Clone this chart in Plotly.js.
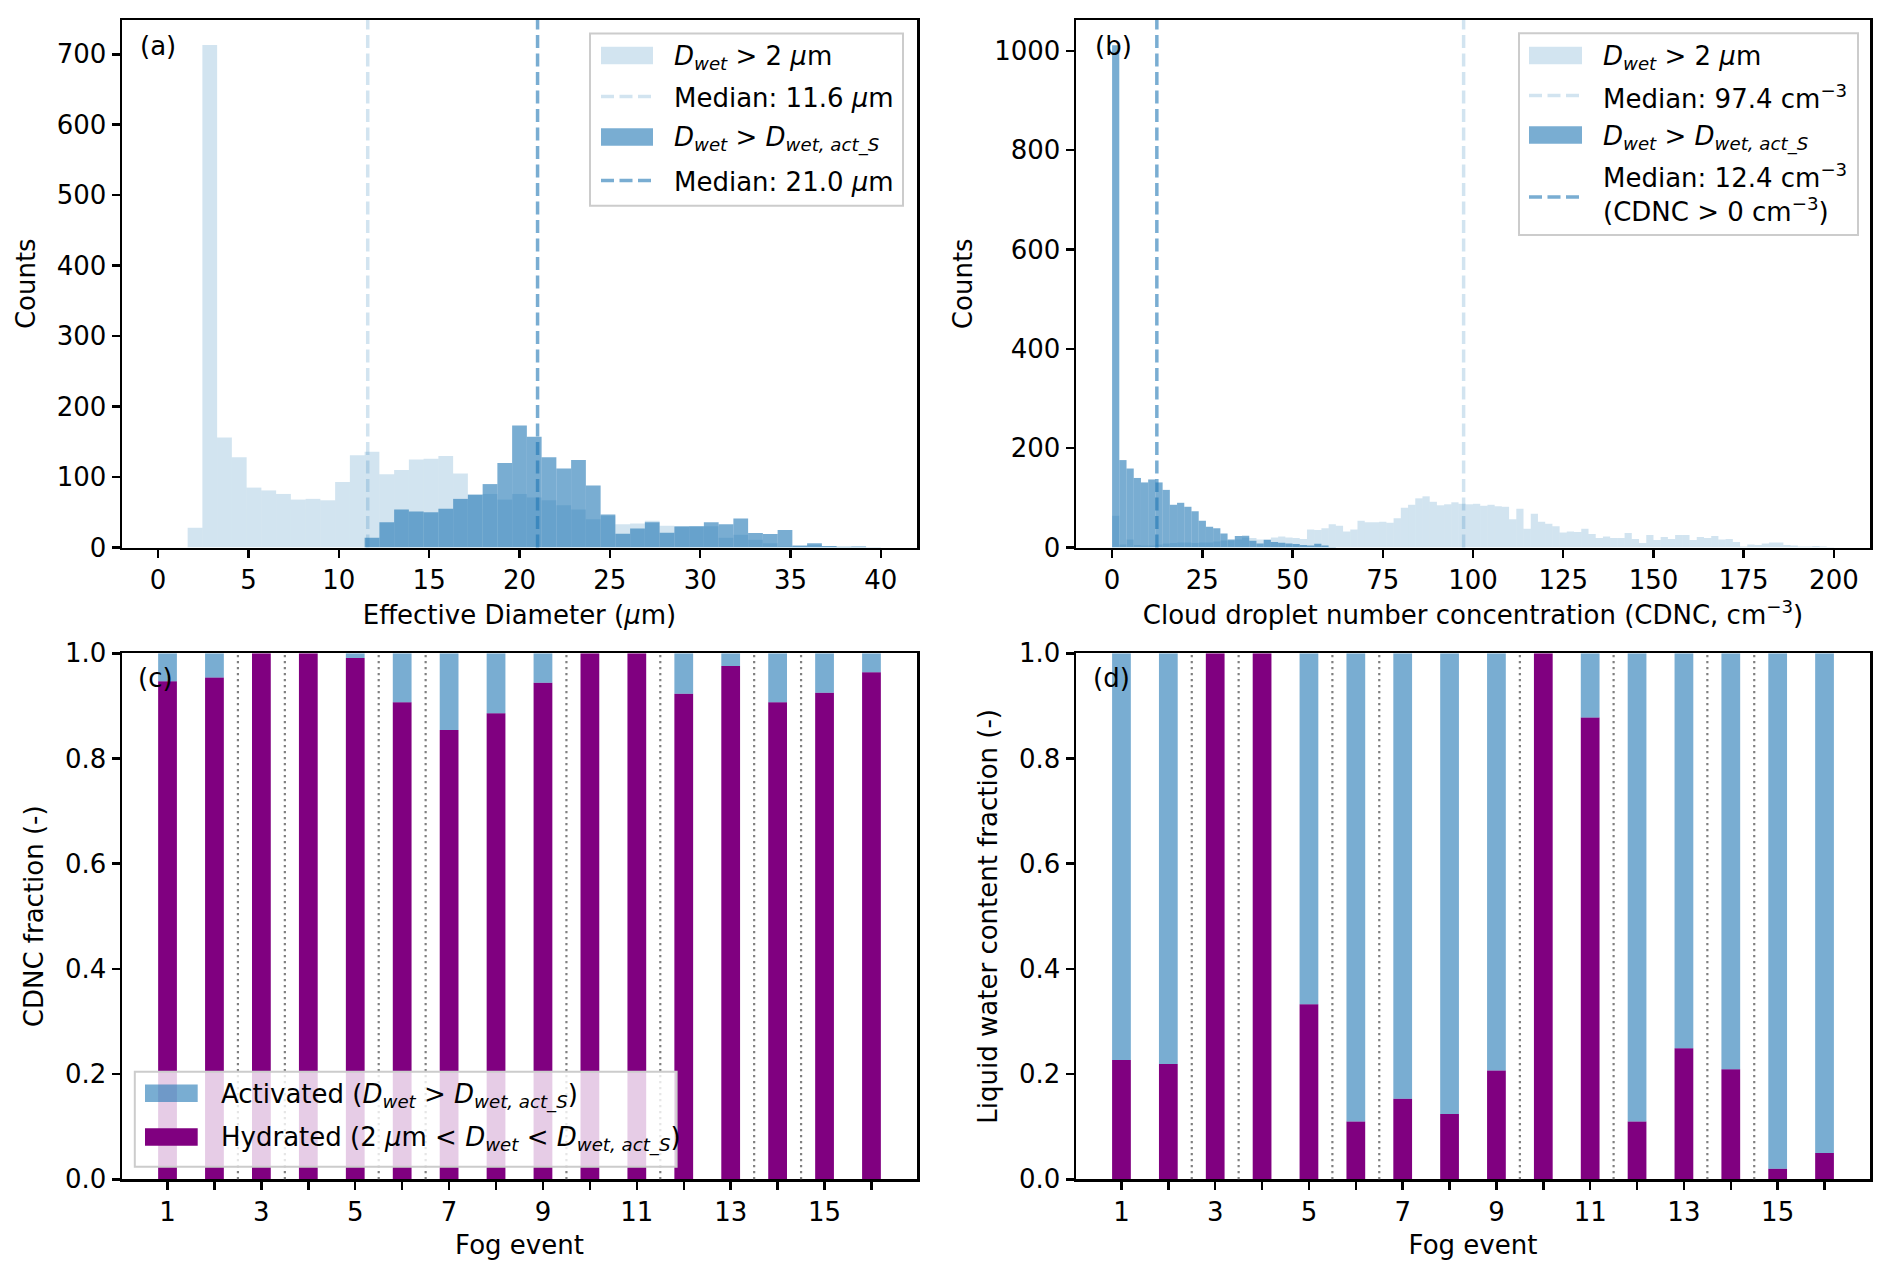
<!DOCTYPE html>
<html>
<head>
<meta charset="utf-8">
<script src="https://cdn.plot.ly/plotly-3.0.1.min.js"></script>
<style>html,body{margin:0;padding:0;background:#fff;}#chart{width:1892px;height:1278px;}</style>
</head>
<body>
<div id="chart"></div>
<script>
// ---------------- DATA ----------------
// (a) Effective diameter histograms: 49 bins spanning 0..40 µm
const diamBinStart = 0;
const diamBinEnd = 40;
const diamCountsAll = [0,0,28,713,156,128,85,81,76,68,69,67,93,131,136,104,110,125,126,130,105,75,76,68,76,71,67,60,54,40,45,33,34,38,31,29,30,30,14,18,11,6,1.5,2,4,1.5,1,1,0.5];
const diamCountsAct = [0,0,0,0,0,0,0,0,0,0,0,0,0,0,14,36,54,51,50,55,69,75,90,120,173,157,128,112,124,88,47,19.5,27,36,21,30,30,36,33,41,20.5,19,25,3,6,2,1,1.4,0.5];
const diamMedians = [11.6, 21.0];

// (b) CDNC histograms: bins of 2 cm^-3 starting at 0
const cdncBinWidth = 2;
const cdncCountsAll = [64,6,16,5,4,4,6,8,9,10,10,9,10,10,12,14,14,16,20,19,16,17,20,22,20,19,17,
  36,35,39,47,44,32,36,54,51,51,52,
  50,59,80,86,99,103,92,85,87,91,88,87,88,84,86,83,82,57,78,38,68,52,48,43,30,32,31,38,27,19,
  22,19,19,29,17,9,25,15,21,17,25,25,15,21,19,23,16,17,11,2,6,5,8,10,10,5,4,2,2,3,2,1];
const cdncCountsAct = [1011,176,159,140,131,137,131,116,86,90,82,73,54,42,39,28,16,23,23.5,13.5,8,15,11,9.5,8,7,5,4,7.5,4,1];
const cdncMedians = [97.4, 12.4];

// (c),(d) fog events
const fogEvents = [1,2,3,4,5,6,7,8,9,10,11,12,13,14,15,16];
const fogTickVals = [1,3,5,7,9,11,13,15];
const cdncHydrated = [0.947,0.954,1.0,1.0,0.991,0.907,0.854,0.886,0.944,1.0,1.0,0.923,0.976,0.907,0.925,0.964];
const cdncActivated = [0.053,0.046,0,0,0.009,0.093,0.146,0.114,0.056,0,0,0.077,0.024,0.093,0.075,0.036];
const lwcHydrated = [0.227,0.219,1.0,1.0,0.333,0.110,0.153,0.124,0.207,1.0,0.878,0.110,0.249,0.209,0.020,0.050];
const lwcActivated = [0.773,0.781,0,0,0.667,0.890,0.847,0.876,0.793,0,0.122,0.890,0.751,0.791,0.980,0.950];
const eventSeparators = [2.5,3.5,5.5,6.5,9.5,11.5,13.5,14.5];

// ---------------- STYLE ----------------
const W = 1892, H = 1278;
const FONT = 'DejaVu Sans';
const FS = 26;
const C_LIGHT = 'rgba(31,119,180,0.2)';
const C_DARK = 'rgba(31,119,180,0.6)';
const C_PURPLE = '#800080';
const DASH = '13px,5.5px';
function PX(x){ return x / W; }
function PY(y){ return 1 - y / H; }

const diamW = (diamBinEnd - diamBinStart) / diamCountsAll.length;
const diamCenters = diamCountsAll.map((_, i) => diamBinStart + diamW * (i + 0.5));
const cdncCentersAll = cdncCountsAll.map((_, i) => cdncBinWidth * (i + 0.5));
const cdncCentersAct = cdncCountsAct.map((_, i) => cdncBinWidth * (i + 0.5));

const traces = [
  {type:'bar', x:diamCenters, y:diamCountsAll, width:diamW, xaxis:'x', yaxis:'y',
   marker:{color:C_LIGHT, line:{width:0}}, showlegend:false, hoverinfo:'skip'},
  {type:'bar', x:diamCenters, y:diamCountsAct, width:diamW, xaxis:'x', yaxis:'y',
   marker:{color:C_DARK, line:{width:0}}, showlegend:false, hoverinfo:'skip'},
  {type:'bar', x:cdncCentersAll, y:cdncCountsAll, width:cdncBinWidth, xaxis:'x2', yaxis:'y2',
   marker:{color:C_LIGHT, line:{width:0}}, showlegend:false, hoverinfo:'skip'},
  {type:'bar', x:cdncCentersAct, y:cdncCountsAct, width:cdncBinWidth, xaxis:'x2', yaxis:'y2',
   marker:{color:C_DARK, line:{width:0}}, showlegend:false, hoverinfo:'skip'},
  {type:'bar', x:fogEvents, y:cdncHydrated, width:0.4, xaxis:'x3', yaxis:'y3',
   marker:{color:C_PURPLE, line:{width:0}}, showlegend:false},
  {type:'bar', x:fogEvents, y:cdncActivated, base:cdncHydrated, width:0.4, xaxis:'x3', yaxis:'y3',
   marker:{color:C_DARK, line:{width:0}}, showlegend:false},
  {type:'bar', x:fogEvents, y:lwcHydrated, width:0.4, xaxis:'x4', yaxis:'y4',
   marker:{color:C_PURPLE, line:{width:0}}, showlegend:false},
  {type:'bar', x:fogEvents, y:lwcActivated, base:lwcHydrated, width:0.4, xaxis:'x4', yaxis:'y4',
   marker:{color:C_DARK, line:{width:0}}, showlegend:false}
];

const xDomL = [PX(122), PX(917)];
const xDomR = [PX(1076), PX(1870)];
const yDomT = [PY(547.5), PY(20)];
const yDomB = [PY(1179.3), PY(653.3)];

function axisBase(extra){
  return Object.assign({
    showline:true, mirror:true, linecolor:'black', linewidth:2.5,
    ticks:'outside', ticklen:8, tickwidth:2.5, tickcolor:'black',
    showgrid:false, zeroline:false, fixedrange:true,
    tickfont:{family:FONT, size:FS, color:'black'}
  }, extra);
}
function ttl(text, standoff){ return {text:text, font:{family:FONT, size:FS, color:'black'}, standoff:standoff}; }
const fogMinor = {tick0:0, dtick:1, ticks:'outside', ticklen:8, tickwidth:2.5, tickcolor:'black', showgrid:false};

const shapes = [];
// median lines
shapes.push({type:'line', xref:'x', yref:'y domain', x0:diamMedians[0], x1:diamMedians[0], y0:0, y1:1, line:{color:C_LIGHT, width:3.5, dash:DASH}});
shapes.push({type:'line', xref:'x', yref:'y domain', x0:diamMedians[1], x1:diamMedians[1], y0:0, y1:1, line:{color:C_DARK, width:3.5, dash:DASH}});
shapes.push({type:'line', xref:'x2', yref:'y2 domain', x0:cdncMedians[0], x1:cdncMedians[0], y0:0, y1:1, line:{color:C_LIGHT, width:3.5, dash:DASH}});
shapes.push({type:'line', xref:'x2', yref:'y2 domain', x0:cdncMedians[1], x1:cdncMedians[1], y0:0, y1:1, line:{color:C_DARK, width:3.5, dash:DASH}});
// event separators
eventSeparators.forEach(s => {
  ['3','4'].forEach(n => shapes.push({type:'line', xref:'x'+n, yref:'y'+n+' domain', x0:s, x1:s, y0:0, y1:1,
    line:{color:'rgb(128,128,128)', width:2.2, dash:'2.2px,3.8px'}}));
});

const annotations = [];
function txt(x, y, text){
  annotations.push({xref:'paper', yref:'paper', x:PX(x), y:PY(y), text:text, showarrow:false,
    xanchor:'left', yanchor:'middle', align:'left', font:{family:FONT, size:FS, color:'black'}});
}
function legendBox(x0, y0, x1, y1){
  shapes.push({type:'rect', xref:'paper', yref:'paper', x0:PX(x0), x1:PX(x1), y0:PY(y1), y1:PY(y0),
    fillcolor:'rgba(255,255,255,0.8)', line:{color:'rgb(204,204,204)', width:2}, layer:'above'});
}
function swatch(x0, x1, yc, color){
  shapes.push({type:'rect', xref:'paper', yref:'paper', x0:PX(x0), x1:PX(x1), y0:PY(yc+8.8), y1:PY(yc-8.8),
    fillcolor:color, line:{width:0}, layer:'above'});
}
function dashLine(x0, x1, yc, color){
  shapes.push({type:'line', xref:'paper', yref:'paper', x0:PX(x0), x1:PX(x1), y0:PY(yc), y1:PY(yc),
    line:{color:color, width:3.5, dash:DASH}, layer:'above'});
}
const DWET = '<i>D</i><sub><i>wet</i></sub>';
const DACT = '<i>D</i><sub><i>wet, act_S</i></sub>';

// legend (a)
legendBox(590, 33.4, 903, 205.7);
swatch(601, 653, 55.5, C_LIGHT);
dashLine(601, 653, 96.5, C_LIGHT);
swatch(601, 653, 137, C_DARK);
dashLine(601, 653, 180.5, C_DARK);
txt(672, 58, DWET + ' > 2 <i>μ</i>m');
txt(672, 97.5, 'Median: 11.6 <i>μ</i>m');
txt(672, 139.5, DWET + ' > ' + DACT);
txt(672, 181.5, 'Median: 21.0 <i>μ</i>m');

// legend (b)
legendBox(1519, 33.3, 1858, 235);
swatch(1529, 1582, 55.5, C_LIGHT);
dashLine(1529, 1582, 95.5, C_LIGHT);
swatch(1529, 1582, 135, C_DARK);
dashLine(1529, 1582, 197, C_DARK);
txt(1601, 58, DWET + ' > 2 <i>μ</i>m');
txt(1601, 96.5, 'Median: 97.4 cm<sup>−3</sup>');
txt(1601, 138, DWET + ' > ' + DACT);
txt(1601, 193, 'Median: 12.4 cm<sup>−3</sup><br>(CDNC > 0 cm<sup>−3</sup>)');

// legend (c)
legendBox(134.8, 1071.7, 676.6, 1166.7);
swatch(145, 197.7, 1093.3, C_DARK);
swatch(145, 197.7, 1137, C_PURPLE);
txt(219, 1096, 'Activated (' + DWET + ' > ' + DACT + ')');
txt(219, 1139, 'Hydrated (2 <i>μ</i>m < ' + DWET + ' < ' + DACT + ')');

// panel labels
txt(138, 45.5, '(a)');
txt(1093, 45.5, '(b)');
txt(136, 677.5, '(c)');
txt(1091, 677.5, '(d)');

const layout = {
  width:W, height:H, margin:{l:0, r:0, t:0, b:0},
  paper_bgcolor:'white', plot_bgcolor:'white',
  barmode:'overlay', showlegend:false,
  font:{family:FONT, size:FS, color:'black'},
  xaxis: axisBase({domain:xDomL, anchor:'y', range:[-2.0, 42.0], tickvals:[0,5,10,15,20,25,30,35,40],
    title:ttl('Effective Diameter (<i>μ</i>m)', 12)}),
  yaxis: axisBase({domain:yDomT, anchor:'x', range:[0, 748.6], tickvals:[0,100,200,300,400,500,600,700],
    title:ttl('Counts', 14)}),
  xaxis2: axisBase({domain:xDomR, anchor:'y2', range:[-10, 210], tickvals:[0,25,50,75,100,125,150,175,200],
    title:ttl('Cloud droplet number concentration (CDNC, cm<sup>−3</sup>)', 12)}),
  yaxis2: axisBase({domain:yDomT, anchor:'x2', range:[0, 1062], tickvals:[0,200,400,600,800,1000],
    title:ttl('Counts', 14)}),
  xaxis3: axisBase({domain:xDomL, anchor:'y3', range:[0.03, 16.97], tickvals:fogTickVals,
    minor:fogMinor, title:ttl('Fog event', 10)}),
  yaxis3: axisBase({domain:yDomB, anchor:'x3', range:[0, 1], tickvals:[0,0.2,0.4,0.6,0.8,1.0], tickformat:'.1f',
    title:ttl('CDNC fraction (-)', 14)}),
  xaxis4: axisBase({domain:xDomR, anchor:'y4', range:[0.03, 16.97], tickvals:fogTickVals,
    minor:fogMinor, title:ttl('Fog event', 10)}),
  yaxis4: axisBase({domain:yDomB, anchor:'x4', range:[0, 1], tickvals:[0,0.2,0.4,0.6,0.8,1.0], tickformat:'.1f',
    title:ttl('Liquid water content fraction (-)', 14)}),
  shapes:shapes,
  annotations:annotations
};

Plotly.newPlot('chart', traces, layout, {staticPlot:true, displayModeBar:false});
</script>
</body>
</html>
